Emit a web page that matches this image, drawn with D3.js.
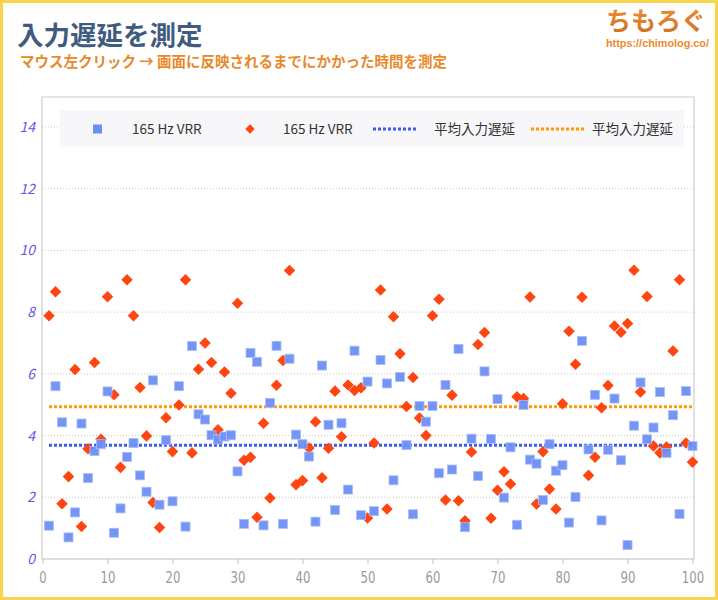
<!DOCTYPE html>
<html>
<head>
<meta charset="utf-8">
<script src="https://cdn.jsdelivr.net/npm/d3@7"></script>
<style>
  body { margin: 0; background: #fff; }
  text { font-family: "Noto Sans CJK JP", "Noto Sans", sans-serif; }
</style>
</head>
<body>
<script>
//latency samples (ms), one per click
var blueVals = [1.08,5.6,4.43,0.7,1.51,4.39,2.62,3.5,3.72,5.43,
    0.85,1.64,3.31,3.76,2.71,2.18,5.79,1.76,3.85,1.87,
    5.6,1.05,6.9,4.69,4.52,4.01,3.87,3.97,4.01,2.84,
    1.14,6.68,6.39,1.09,5.06,6.91,1.14,6.49,4.03,3.72,
    3.32,1.21,6.27,4.35,1.59,4.4,2.25,6.75,1.42,5.75,
    1.55,6.45,5.69,2.55,5.9,3.69,1.45,4.96,4.45,4.96,
    2.78,5.64,2.9,6.81,1.03,3.9,2.69,6.08,3.89,5.18,
    1.99,3.62,1.11,4.99,3.22,3.09,1.91,3.72,2.86,3.04,
    1.18,2.01,7.07,3.55,5.32,1.25,3.54,5.2,3.2,0.45,
    4.32,5.72,3.88,4.26,5.41,3.44,4.66,1.46,5.44,3.66];

var redVals = [7.88,8.66,1.79,2.67,6.14,1.05,3.57,6.37,3.88,8.5,
    5.32,2.97,9.05,7.88,5.56,3.99,1.83,1.02,4.58,3.48,
    4.99,9.05,3.44,6.15,7.0,6.37,4.19,6.06,5.37,8.29,
    3.2,3.3,1.35,4.4,1.98,5.63,6.43,9.35,2.41,2.54,
    3.6,4.45,2.63,3.59,5.44,3.96,5.64,5.46,5.55,1.33,
    3.76,8.72,1.62,7.85,6.65,4.94,5.88,4.57,4.0,7.88,
    8.42,1.91,5.31,1.89,1.24,3.47,6.95,7.34,1.32,2.23,
    2.83,2.43,5.26,5.2,8.49,1.78,3.48,2.27,1.62,5.03,
    7.38,6.31,8.48,2.71,3.3,4.9,5.62,7.55,7.35,7.63,
    9.36,5.41,8.51,3.66,3.44,3.63,6.74,9.05,3.76,3.14];

var averages = [3.69, 4.93];
var seriesNames = ["165 Hz VRR", "165 Hz VRR", "平均入力遅延", "平均入力遅延"];
var xTicks = [0,10,20,30,40,50,60,70,80,90,100];
var yTicks = [0,2,4,6,8,10,12,14];

drawChart();

function drawChart(){
    var width = 718, height = 600;
    var blue = "#6d8ef6", red = "#ff4510", blueLine = "#3d5cf2", orangeLine = "#ff9a00";
    var narrow = "'DejaVu Sans', sans-serif";

    var svg = d3.select("body").append("svg")
        .attr("width", width)
        .attr("height", height);

    //logo gradient
    var defs = svg.append("defs");
    var grad = defs.append("linearGradient").attr("id", "logoGrad")
        .attr("x1", 0).attr("y1", 0).attr("x2", 0).attr("y2", 1);
    grad.append("stop").attr("offset", "0%").attr("stop-color", "#f7902c");
    grad.append("stop").attr("offset", "100%").attr("stop-color", "#c9702a");

    //yellow frame
    svg.append("rect")
        .attr("x", 1.5).attr("y", 1.5)
        .attr("width", width - 3).attr("height", height - 3)
        .attr("fill", "#fff")
        .attr("stroke", "#f8d54a")
        .attr("stroke-width", 3);

    //titles
    svg.append("text")
        .attr("x", 17).attr("y", 45)
        .attr("font-size", 26.5).attr("font-weight", 700)
        .attr("fill", "#3f5b80")
        .text("入力遅延を測定");

    svg.append("text")
        .attr("x", 20).attr("y", 67)
        .attr("font-size", 14.5).attr("font-weight", 700)
        .attr("fill", "#e8892a")
        .text("マウス左クリック → 画面に反映されるまでにかかった時間を測定");

    svg.append("text")
        .attr("x", 606).attr("y", 30)
        .attr("font-size", 25).attr("font-weight", 700)
        .attr("fill", "url(#logoGrad)")
        .text("ちもろぐ");

    svg.append("text")
        .attr("x", 606).attr("y", 47)
        .attr("font-size", 11.5).attr("font-weight", 700)
        .attr("fill", "#ee8a2e")
        .attr("textLength", 103)
        .attr("lengthAdjust", "spacingAndGlyphs")
        .style("font-family", "'Liberation Sans', sans-serif")
        .text("https://chimolog.co/");

    //scales
    var x = d3.scaleLinear().domain([0, 100]).range([42.5, 692.5]);
    var y = d3.scaleLinear().domain([0, 14]).range([559, 127]);
    var pl = 42, pr = 694, pt = 97, pb = 559;

    //plot frame
    svg.append("path")
        .attr("d", "M" + pl + "," + pb + "V" + pt + "H" + pr + "V" + pb)
        .attr("fill", "none")
        .attr("stroke", "#cdcdcd")
        .attr("stroke-width", 1.2);

    //gridlines
    svg.selectAll(".grid")
        .data(yTicks.filter(function(d){ return d > 0; }))
        .enter()
        .append("line")
        .attr("class", "grid")
        .attr("x1", pl).attr("x2", pr)
        .attr("y1", function(d){ return y(d); })
        .attr("y2", function(d){ return y(d); })
        .attr("stroke", "#c8c8c8")
        .attr("stroke-dasharray", "1,2");

    //y labels
    svg.selectAll(".ylab")
        .data(yTicks)
        .enter()
        .append("text")
        .attr("class", "ylab")
        .attr("x", 35)
        .attr("y", function(d){ return y(d) + 5; })
        .attr("text-anchor", "end")
        .attr("font-size", 14)
        .attr("font-style", "italic")
        .attr("fill", "#6a55e6")
        .text(function(d){ return d; });

    //x axis
    var xAxis = d3.axisBottom(x).tickValues(xTicks).tickSize(5).tickPadding(8);
    var gx = svg.append("g")
        .attr("transform", "translate(0," + pb + ")")
        .call(xAxis);
    gx.select(".domain").attr("stroke", "#bdbdbd").attr("d", "M" + pl + ",0H" + pr);
    gx.selectAll(".tick line").attr("stroke", "#bdbdbd");
    //condensed look: squeeze each label around its tick
    gx.selectAll(".tick text")
        .attr("fill", "#9a9a9a")
        .attr("font-size", 15)
        .attr("transform", "scale(0.78,1)")
        .style("font-family", narrow);

    //average lines
    var avgColors = [blueLine, orangeLine];
    svg.selectAll(".avg")
        .data(averages)
        .enter()
        .append("line")
        .attr("class", "avg")
        .attr("x1", x(1)).attr("x2", x(100))
        .attr("y1", function(d){ return y(d); })
        .attr("y2", function(d){ return y(d); })
        .attr("stroke", function(d, i){ return avgColors[i]; })
        .attr("stroke-width", 3)
        .attr("stroke-dasharray", "3,2");

    //red diamonds
    var diamond = d3.symbol().type(d3.symbolDiamond2).size(85);
    svg.selectAll(".red")
        .data(redVals)
        .enter()
        .append("path")
        .attr("class", "red")
        .attr("d", diamond)
        .attr("transform", function(d, i){ return "translate(" + x(i + 1) + "," + y(d) + ")"; })
        .attr("fill", red);

    //blue squares
    svg.selectAll(".blue")
        .data(blueVals)
        .enter()
        .append("rect")
        .attr("class", "blue")
        .attr("x", function(d, i){ return x(i + 1) - 4.5; })
        .attr("y", function(d){ return y(d) - 4.5; })
        .attr("width", 9).attr("height", 9)
        .attr("fill", blue)
        .attr("fill-opacity", 0.95)
        .attr("stroke", "#a9bcf9")
        .attr("stroke-width", 0.8);

    //legend
    var legend = svg.append("g");
    legend.append("rect")
        .attr("x", 60).attr("y", 110)
        .attr("width", 624).attr("height", 37)
        .attr("fill", "#f7f7fa");

    var ly = 129;
    legend.append("rect")
        .attr("x", 93).attr("y", ly - 4.5)
        .attr("width", 9).attr("height", 9)
        .attr("fill", blue);
    legend.append("path")
        .attr("d", d3.symbol().type(d3.symbolDiamond2).size(55))
        .attr("transform", "translate(250," + ly + ")")
        .attr("fill", red);
    legend.append("line")
        .attr("x1", 373).attr("x2", 418)
        .attr("y1", ly).attr("y2", ly)
        .attr("stroke", blueLine).attr("stroke-width", 3).attr("stroke-dasharray", "3,2");
    legend.append("line")
        .attr("x1", 531).attr("x2", 586)
        .attr("y1", ly).attr("y2", ly)
        .attr("stroke", orangeLine).attr("stroke-width", 3).attr("stroke-dasharray", "3,2");

    var labelX = [132, 283, 434, 592];
    legend.selectAll(".ltext")
        .data(seriesNames)
        .enter()
        .append("text")
        .attr("class", "ltext")
        .attr("x", function(d, i){ return labelX[i]; })
        .attr("y", ly + 5)
        .attr("font-size", 13.5)
        .attr("fill", "#333")
        .text(function(d){ return d; });
}
</script>
</body>
</html>
